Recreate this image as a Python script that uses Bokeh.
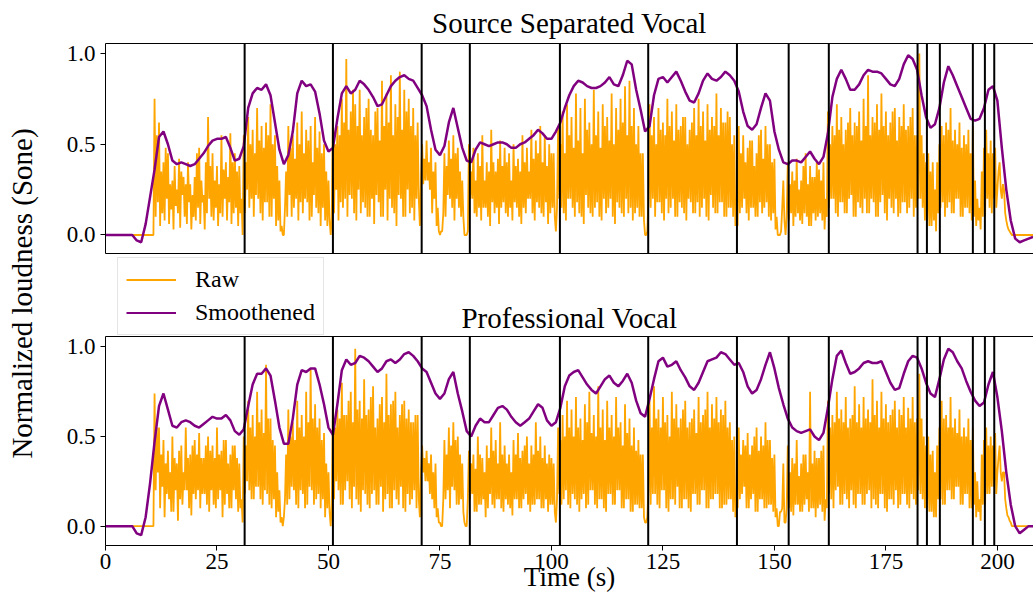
import numpy as np
from bokeh.plotting import figure
from bokeh.layouts import row, column
from bokeh.models import (Range1d, FixedTicker, LinearAxis, Span, Legend, LegendItem,
                          Label, PrintfTickFormatter)
from bokeh.embed import file_html
from bokeh.resources import INLINE

# ---------------- data (loudness in percent of normalized sone) ----------------
RAW_DT = 0.25     # seconds between raw samples
SMOOTH_DT = 1.0   # seconds between smoothed samples

sep_raw = [
    0,0,0,0,0,0,0,0,0,0,0,0,0,0,0,0,0,0,0,0,0,0,0,0,0,0,0,0,0,0,0,0,0,0,0,0,0,0,0,0,
    0,0,0,0,75,10,55,18,62,5,35,12,40,8,48,20,45,6,28,14,30,3,38,16,25,12,42,4,35,22,32,10,28,6,40,18,28,3,22,10,
    32,8,45,15,48,6,30,18,22,3,40,12,65,20,38,10,45,8,30,15,38,5,28,12,55,10,36,20,40,8,32,18,56,6,40,12,45,15,35,5,
    38,12,20,0,55,12,40,25,65,15,50,20,58,10,45,22,70,20,52,12,60,8,48,18,62,18,55,10,72,10,50,20,55,5,38,8,30,2,5,0,
    0,15,35,10,60,22,48,10,55,15,42,20,62,8,50,18,68,12,45,20,58,18,52,8,60,10,40,22,65,15,48,12,57,5,45,15,50,8,35,5,
    30,8,0,10,70,12,50,25,60,8,55,18,75,15,62,20,97,10,58,22,68,20,80,12,72,8,60,25,80,12,55,18,65,15,70,10,75,10,58,20,
    55,6,68,22,70,18,52,10,85,10,60,25,78,8,62,20,88,15,55,12,72,5,65,22,90,20,58,10,80,10,68,25,75,12,60,15,70,8,55,20,
    62,20,5,30,50,28,42,30,52,30,40,25,48,12,35,20,40,5,15,2,0,2,2,12,45,10,38,22,52,20,42,15,55,8,45,20,48,15,35,10,
    30,10,0,0,0,2,50,20,35,20,48,12,30,10,45,15,38,8,55,15,30,15,40,10,35,5,58,18,40,12,35,15,42,6,52,15,38,18,48,12,
    40,10,45,15,30,8,50,18,38,15,42,10,35,6,55,15,40,12,48,20,35,20,58,12,42,8,52,18,45,15,60,12,40,10,55,18,38,6,50,12,
    45,15,45,10,2,15,60,20,50,15,68,12,45,8,72,20,55,20,65,15,48,10,78,18,52,12,70,10,45,6,75,22,58,15,62,12,50,10,80,15,
    55,18,68,10,48,8,72,20,60,12,65,15,52,20,78,10,50,6,70,18,58,15,75,12,62,10,82,20,55,12,85,15,60,8,70,12,50,15,60,10,
    45,10,45,8,0,0,2,20,72,15,55,20,65,10,50,18,70,18,58,12,62,8,55,20,75,12,60,15,68,20,52,10,72,10,58,18,60,15,65,12,
    65,8,50,20,58,18,62,12,70,12,55,18,75,10,60,15,68,20,52,10,72,8,58,22,65,15,60,12,78,12,55,18,70,18,62,10,62,10,68,15,
    65,15,50,10,55,5,20,5,60,12,45,15,55,20,40,12,48,8,52,15,52,15,38,10,45,10,55,18,58,12,42,15,60,18,50,10,50,8,40,12,
    42,3,10,0,0,0,2,15,30,8,0,10,40,8,28,12,35,5,30,10,42,12,25,8,30,6,38,12,45,10,28,5,38,5,32,12,32,8,40,10,
    36,12,30,8,40,3,20,10,68,15,50,20,60,20,55,12,72,10,58,18,65,18,50,12,58,12,62,20,70,22,55,10,62,10,60,18,68,15,52,12,
    75,20,60,12,88,12,55,20,65,18,62,10,72,10,58,18,78,22,60,12,68,8,55,20,62,15,68,12,70,20,52,10,65,12,60,18,72,18,58,12,
    60,15,65,20,70,10,55,15,55,20,100,20,55,15,45,8,40,8,45,5,35,5,40,8,25,2,40,12,50,15,60,18,55,10,62,15,58,18,70,12,
    52,12,58,20,50,20,62,10,48,10,55,15,50,15,58,12,45,8,60,10,30,5,20,8,15,3,35,10,48,10,58,20,45,15,52,12,45,20,48,15,
    25,35,40,25,20,28,25,12,8,5,3,2,1,0,0,0,0,0,0,0,0,0,0,0,0,0,0,0,0,0,0,0,0,
]

sep_smooth = [
    0,0,0,0,0,0,0,-3,-4,6,
    21,36,54,57,50,41,39,40,39,38,
    39,42,45,49,52,53,53,54,48,41,
    42,49,70,78,81,80,83,77,62,47,
    39,44,57,78,85,82,83,79,67,52,
    46,48,64,78,82,78,80,85,83,80,
    76,71,72,77,82,85,87,88,86,85,
    81,77,71,58,47,44,49,62,70,59,
    48,41,40,47,51,50,49,50,51,51,
    50,48,48,50,51,53,55,58,56,53,
    53,57,62,70,77,82,85,84,82,81,
    81,82,84,87,83,82,88,96,94,80,
    69,57,60,77,86,87,84,87,90,85,
    79,74,73,78,85,89,86,85,87,90,
    88,85,79,68,60,58,61,70,78,74,
    57,47,40,39,41,41,40,43,46,42,
    39,43,56,76,86,91,86,80,80,83,
    88,91,90,90,89,86,83,82,86,94,
    99,97,91,77,65,59,61,70,84,93,
    88,82,76,70,64,63,64,70,80,82,
    74,48,25,8,-2,-4,-3,-2,-1,
]

pro_raw = [
    0,0,0,0,0,0,0,0,0,0,0,0,0,0,0,0,0,0,0,0,0,0,0,0,0,0,0,0,0,0,0,0,0,0,0,0,0,0,0,0,
    0,0,0,0,74,20,55,30,55,10,40,22,48,5,35,18,42,15,30,8,50,8,38,20,35,3,42,15,45,12,30,20,55,20,38,10,40,6,45,18,
    48,15,40,20,52,10,38,18,38,18,45,12,50,8,42,20,45,12,38,10,55,15,40,20,42,5,48,12,48,18,35,10,40,10,45,20,45,15,38,8,
    35,10,15,2,50,18,45,25,70,20,55,15,62,15,50,22,75,22,58,15,65,12,52,20,90,18,60,12,60,10,48,15,45,5,30,8,20,2,5,0,
    5,15,40,12,65,15,50,22,58,20,48,12,70,10,55,20,62,18,50,10,75,12,58,22,88,20,60,12,68,15,55,18,60,10,48,15,52,5,35,10,
    30,8,0,12,72,15,55,25,65,20,60,12,80,12,62,20,62,25,70,15,75,10,58,22,99,15,65,12,70,8,60,20,82,18,62,12,65,10,72,18,
    78,20,55,12,60,12,68,22,72,8,58,15,85,18,62,10,68,10,70,20,75,15,55,12,62,22,68,10,70,8,60,18,65,12,58,15,58,20,62,10,
    62,15,5,30,45,30,38,25,42,25,35,18,40,15,30,10,35,5,10,2,2,0,0,15,48,15,40,20,55,10,45,22,58,20,48,12,50,12,40,15,
    35,8,2,0,0,15,42,15,35,18,40,8,32,8,50,12,40,12,38,15,30,5,45,10,38,18,55,12,42,10,48,15,35,15,58,10,40,8,45,15,
    35,12,40,10,30,6,48,15,40,15,52,10,38,10,42,15,45,18,50,12,35,8,45,12,40,12,58,15,42,15,50,10,38,10,45,15,35,8,40,12,
    38,12,35,8,2,15,55,18,48,12,62,15,50,20,70,12,55,10,65,18,50,15,72,12,55,8,60,15,48,18,68,10,58,12,75,20,52,20,62,12,
    50,10,78,15,55,15,65,10,48,8,70,18,55,18,62,12,50,12,72,20,55,20,58,10,45,10,68,15,52,15,60,8,45,8,55,12,42,12,48,10,
    40,10,40,5,2,2,5,20,70,12,55,18,78,18,60,12,65,10,55,20,72,20,58,10,62,8,50,15,75,15,60,12,68,22,55,10,60,10,65,15,
    70,15,55,10,58,8,60,18,65,18,52,12,72,12,58,20,62,20,65,10,75,10,55,15,68,15,60,18,72,18,58,10,65,10,62,12,70,12,55,15,
    58,15,48,8,50,5,15,10,55,15,40,18,48,22,45,10,52,10,40,15,45,18,50,8,55,8,42,15,50,15,45,10,58,10,48,12,48,12,38,8,
    40,5,10,0,0,8,8,10,35,2,2,10,45,10,30,8,38,6,35,12,48,12,28,8,35,8,40,12,40,15,30,8,75,10,35,10,42,5,38,10,
    38,12,42,8,45,3,15,10,70,18,55,15,62,10,58,20,75,22,60,12,65,12,58,18,72,15,55,10,60,20,62,12,78,10,58,18,68,18,55,12,
    72,12,60,18,65,20,58,10,82,15,62,12,70,10,55,18,75,18,60,10,68,8,58,15,62,15,65,12,70,20,55,10,65,12,62,18,72,18,55,12,
    66,10,60,18,72,15,58,12,60,20,85,18,60,15,50,10,45,10,50,8,40,8,42,5,30,5,45,15,55,15,70,12,60,12,62,20,55,20,72,15,
    55,15,60,22,52,22,65,12,50,12,55,18,50,18,60,10,48,10,55,12,30,5,25,8,15,3,40,12,48,12,55,18,45,18,50,22,45,22,52,18,
    30,38,45,30,25,30,30,15,10,6,5,3,2,0,0,0,0,0,0,0,0,0,0,0,0,0,0,0,0,0,0,0,0,
]

pro_smooth = [
    0,0,0,0,0,0,0,-4,-5,5,
    24,47,67,74,65,56,55,58,59,58,
    56,55,57,59,61,60,60,62,59,53,
    51,54,67,79,85,85,88,84,70,55,
    46,46,60,79,87,86,88,88,79,68,
    55,51,68,87,93,90,91,95,94,92,
    89,86,88,92,93,91,93,96,97,95,
    92,88,86,80,74,71,74,82,86,74,
    64,53,50,56,60,58,58,62,66,67,
    65,61,58,56,58,60,64,68,66,59,
    56,58,66,78,84,86,87,83,79,76,
    74,78,82,84,80,78,81,85,80,70,
    63,61,71,82,92,94,89,90,92,87,
    83,78,76,80,86,92,93,94,97,96,
    93,90,91,86,78,74,76,82,90,97,
    88,77,68,60,55,53,52,53,54,50,
    48,52,66,82,95,98,91,85,86,88,
    91,92,91,91,92,86,80,76,77,85,
    92,95,94,88,80,74,72,82,93,99,
    97,92,88,81,75,70,67,69,79,86,
    72,53,30,12,0,-4,-2,0,0,
]

segment_bounds = [31.2, 51.0, 70.9, 81.7, 101.9, 121.7, 141.6, 153.2, 162.2,
                  182.1, 184.2, 187.1, 194.5, 197.2, 199.3]
x_ticks = [0, 25, 50, 75, 100, 125, 150, 175, 200]
y_ticks = [0.0, 0.5, 1.0]
panel_titles = ["Source Separated Vocal", "Professional Vocal"]
series_names = ["Raw", "Smoothened"]
x_label = "Time (s)"
y_label = "Normalized loudness (Sone)"

# ---------------- styling ----------------
FONT = "Liberation Serif"
ORANGE = "#FFA500"
PURPLE = "#800080"
X_END = 208.1
LEFT = 57          # space left of each plot frame (inside the right-hand column)
COL_W = 985        # width of the right-hand column


def strip(height):
    """Blank band (no axes) sharing the plots' horizontal frame, used for titles/legend."""
    s = figure(width=COL_W, height=height, x_range=Range1d(0, X_END), y_range=Range1d(0, height),
               x_axis_type=None, y_axis_type=None, output_backend="svg", toolbar_location=None,
               min_border_left=LEFT, min_border_right=0, min_border_top=0, min_border_bottom=0)
    s.outline_line_color = None
    s.grid.visible = False
    return s


def title_label(text, center_from_bottom):
    return Label(x=X_END / 2, y=center_from_bottom, text=text, text_align="center",
                 text_baseline="middle", text_font=FONT, text_font_size="29px",
                 text_color="black")


def make_panel(raw, smooth, height, border_bottom, y_lo, y_hi, with_ticks):
    p = figure(width=COL_W, height=height, x_range=Range1d(0, X_END), y_range=Range1d(y_lo, y_hi),
               output_backend="svg", toolbar_location=None,
               min_border_left=LEFT, min_border_right=0,
               min_border_top=1, min_border_bottom=border_bottom)
    p.outline_line_color = None
    p.grid.visible = False

    t_raw = np.arange(len(raw)) * RAW_DT
    t_sm = np.arange(len(smooth)) * SMOOTH_DT
    p.line(t_raw, np.array(raw) / 100.0, line_color=ORANGE, line_width=1.8)
    p.line(t_sm, np.array(smooth) / 100.0, line_color=PURPLE, line_width=2.5)
    for b in segment_bounds:
        p.add_layout(Span(location=b, dimension="height", line_color="black", line_width=2))

    ya = p.yaxis[0]
    ya.ticker = FixedTicker(ticks=y_ticks)
    ya.formatter = PrintfTickFormatter(format="%.1f")
    ya.major_tick_out = 5
    ya.major_tick_in = 0
    ya.minor_tick_out = 0
    ya.minor_tick_in = 0
    ya.major_label_standoff = 5
    ya.major_label_text_font = FONT
    ya.major_label_text_font_size = "23px"
    ya.major_label_text_color = "black"
    ya.axis_line_color = "black"
    ya.major_tick_line_color = "black"

    xa = p.xaxis[0]
    xa.minor_tick_out = 0
    xa.minor_tick_in = 0
    xa.axis_line_color = "black"
    if with_ticks:
        xa.ticker = FixedTicker(ticks=x_ticks)
        xa.major_tick_out = 5
        xa.major_tick_in = 0
        xa.major_label_standoff = 3
        xa.major_label_text_font = FONT
        xa.major_label_text_font_size = "23px"
        xa.major_label_text_color = "black"
        xa.major_tick_line_color = "black"
        xa.axis_label = x_label
        xa.axis_label_text_font = FONT
        xa.axis_label_text_font_size = "27px"
        xa.axis_label_text_font_style = "normal"
        xa.axis_label_text_color = "black"
        xa.axis_label_standoff = -10
    else:
        xa.ticker = FixedTicker(ticks=[])
        xa.major_tick_out = 0
        xa.major_tick_in = 0
        xa.major_label_standoff = 0

    top_spine = LinearAxis(ticker=FixedTicker(ticks=[]), major_tick_out=0, major_tick_in=0,
                           minor_tick_out=0, minor_tick_in=0, major_label_standoff=0,
                           axis_line_color="black")
    p.add_layout(top_spine, "above")
    return p


# band with the first title
head = strip(42)
head.add_layout(title_label(panel_titles[0], 20))

top = make_panel(sep_raw, sep_smooth, 212, 1, -0.102, 1.055, False)

# band between the panels: legend + second title
mid = strip(81)
proxy_raw = mid.line(x=[np.nan], y=[np.nan], line_color=ORANGE, line_width=2)
proxy_sm = mid.line(x=[np.nan], y=[np.nan], line_color=PURPLE, line_width=2)
legend = Legend(items=[LegendItem(label=series_names[0], renderers=[proxy_raw]),
                       LegendItem(label=series_names[1], renderers=[proxy_sm])],
                location=(12, 0))
legend.label_text_font = FONT
legend.label_text_font_size = "24px"
legend.label_text_color = "black"
legend.glyph_width = 50
legend.glyph_height = 25
legend.label_height = 25
legend.label_standoff = 19
legend.padding = 8
legend.spacing = 6
legend.margin = 0
legend.border_line_color = "#cccccc"
legend.border_line_width = 1
legend.background_fill_color = "white"
legend.background_fill_alpha = 0.8
mid.add_layout(legend)
mid.add_layout(title_label(panel_titles[1], 18))

bot = make_panel(pro_raw, pro_smooth, 263, 53, -0.108, 1.058, True)

label_fig = figure(width=48, height=598, x_range=Range1d(0, 1), y_range=Range1d(0, 1),
                   x_axis_type=None, y_axis_type=None, output_backend="svg",
                   toolbar_location=None, min_border=0)
label_fig.outline_line_color = None
label_fig.add_layout(Label(x=0.458, y=0.51, text=y_label, angle=np.pi / 2,
                           text_align="center", text_baseline="middle",
                           text_font=FONT, text_font_size="29px", text_color="black"))

layout = row(label_fig, column(head, top, mid, bot))
open("out.html", "w").write(file_html(layout, INLINE))
